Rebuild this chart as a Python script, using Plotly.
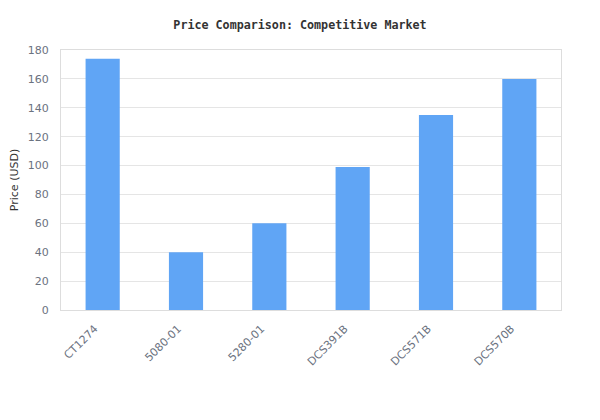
import plotly.graph_objects as go

# модели и цены
models = ['CT1274', '5080-01', '5280-01', 'DCS391B', 'DCS571B', 'DCS570B']
prices = [174, 40, 60, 99, 135, 160]

fig = go.Figure()
fig.add_trace(go.Bar(x=models, y=prices, marker=dict(color='#60a5f5', line=dict(width=0)), width=0.41))

fig.update_layout(
    width=600, height=420,
    margin=dict(l=53, r=47, t=42, b=118),
    paper_bgcolor='white', plot_bgcolor='white',
    title=dict(text='<b>Price Comparison: Competitive Market</b>', x=0.4867, xanchor='center',
               y=0.96, yanchor='middle',
               font=dict(family='DejaVu Sans Mono', size=11.7, color='#333333')),
    font=dict(family='DejaVu Sans', size=11, color='#6b7280'),
    showlegend=False,
)
fig.update_xaxes(type='category', tickangle=-45, showline=True, linecolor='#dddddd', linewidth=1, mirror=True,
                 showgrid=False, ticks='', automargin=False, ticklabelstandoff=7, ticklabelshift=-8,
                 tickfont=dict(color='#6b7280', size=11))
fig.update_yaxes(range=[0, 180], dtick=20, showline=True, linecolor='#dddddd', linewidth=1, mirror=True,
                 gridcolor='#e5e5e5', zeroline=False, ticks='', automargin=False, ticklabelstandoff=9,
                 title=dict(text='Price (USD)', font=dict(size=11, color='#333333'), standoff=16),
                 tickfont=dict(color='#6b7280', size=11))

fig.write_html('out.html')
